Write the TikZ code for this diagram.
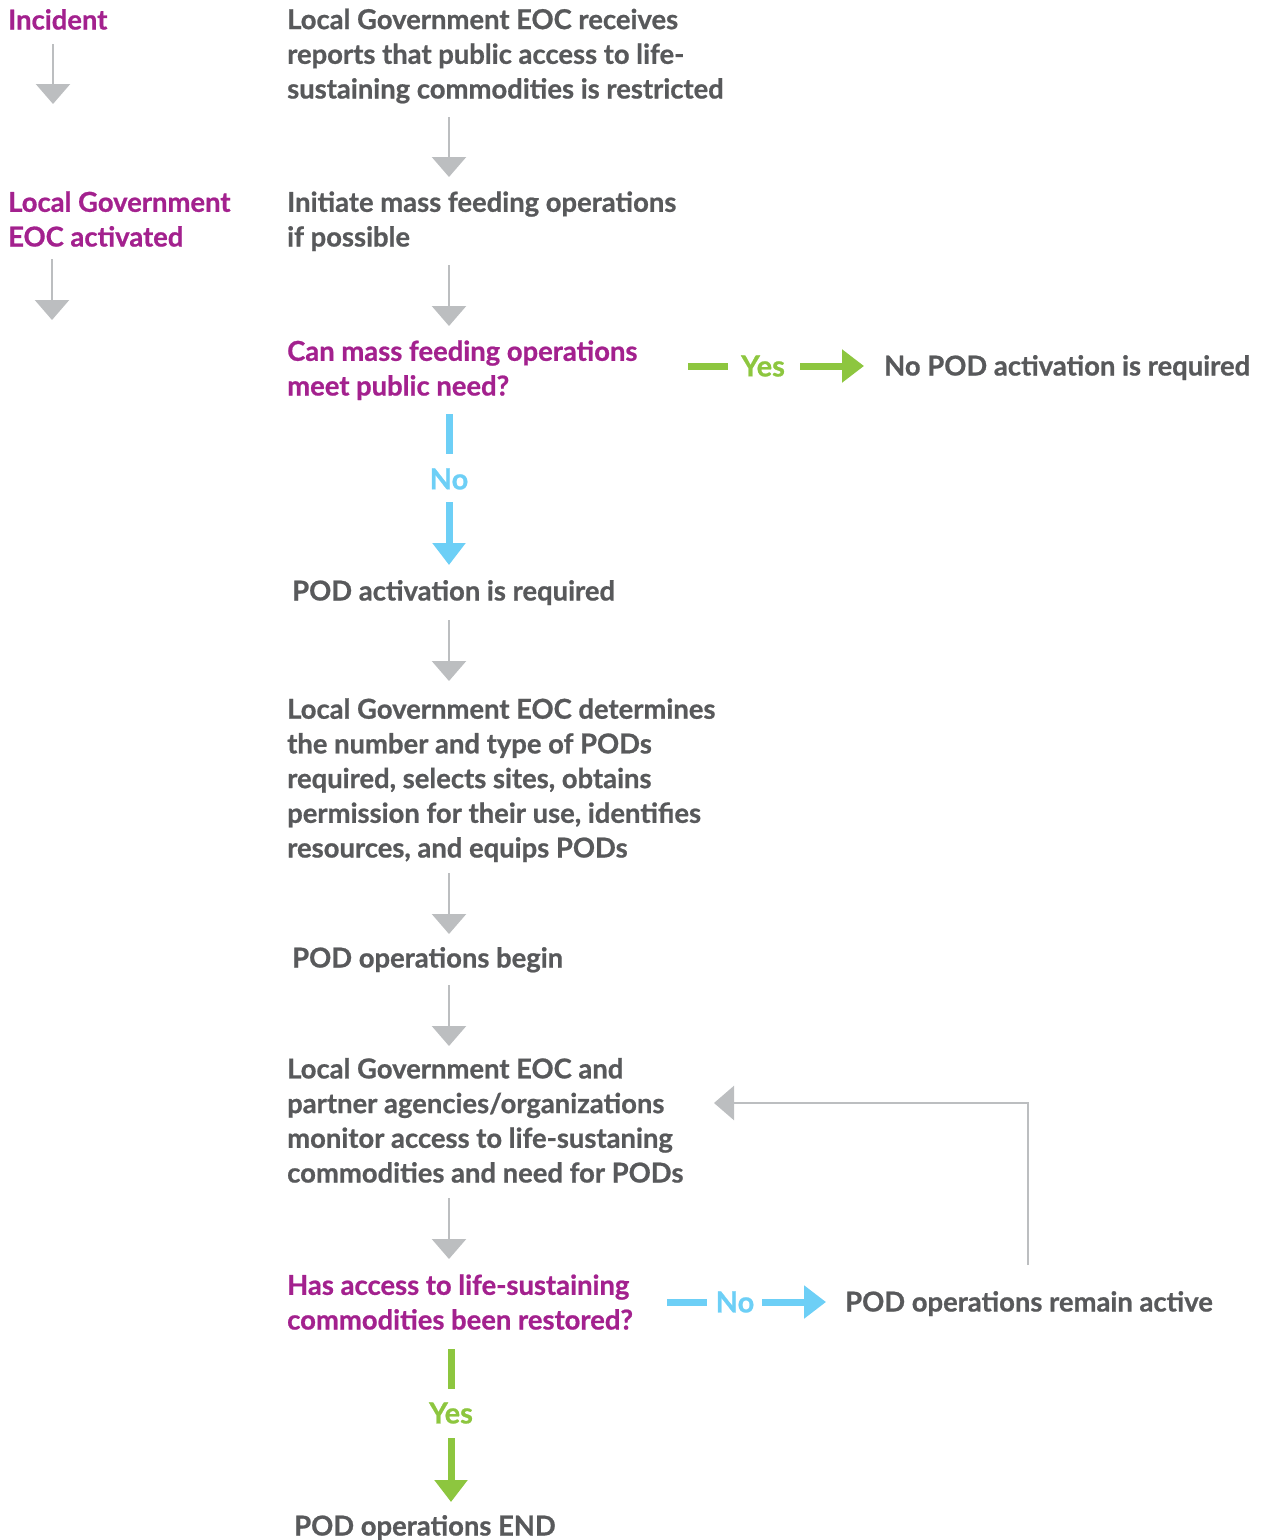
\documentclass[tikz,border=0pt]{standalone}
\usepackage{fontspec}
\setmainfont{Lato}[UprightFont=* Bold,FakeBold=0.8]
\usetikzlibrary{arrows.meta}
\definecolor{txtgray}{HTML}{58595B}
\definecolor{magen}{HTML}{A3218E}
\definecolor{arrgray}{HTML}{BCBEC0}
\definecolor{grn}{HTML}{8DC63F}
\definecolor{blu}{HTML}{6DCFF6}
\tikzset{
  x=1pt,y=-1pt,
  base/.style={inner sep=0pt,anchor=base west,align=left,font=\fontsize{27.4}{34.7}\selectfont},
  txt/.style={base,text=txtgray},
  mtxt/.style={base,text=magen},
  glab/.style={inner sep=0pt,font=\fontsize{29}{34.7}\selectfont,text=grn},
  blab/.style={inner sep=0pt,font=\fontsize{29}{34.7}\selectfont,text=blu},
  garrow/.style={draw=arrgray,line width=2.5pt,-{Triangle[width=34pt,length=20pt]}},
  greenbar/.style={draw=grn,line width=7pt},
  greenarrow/.style={draw=grn,line width=7pt,-{Triangle[width=32pt,length=22pt]}},
  bluebar/.style={draw=blu,line width=7pt},
  bluearrow/.style={draw=blu,line width=7pt,-{Triangle[width=32pt,length=22pt]}},
}
\begin{document}
\begin{tikzpicture}
\useasboundingbox (0,0) rectangle (1263,1540);
% left column (base anchor = baseline of last line)
\node[mtxt] (incident) at (8,29.5) {Incident};
\coordinate (l1s) at (53,44); \coordinate (l1e) at (53,104);
\draw[garrow] (l1s) -- (l1e);
\node[mtxt] (eoc) at (8,246.5) {Local Government\\EOC activated};
\coordinate (l2s) at (52,259); \coordinate (l2e) at (52,320);
\draw[garrow] (l2s) -- (l2e);
% main column
\node[txt] (n1) at (287,98.5) {Local Government EOC receives\\reports that public access to life-\\sustaining commodities is restricted};
\coordinate (a1s) at (449,117); \coordinate (a1e) at (449,177);
\draw[garrow] (a1s) -- (a1e);
\node[txt] (n2) at (287,246.5) {Initiate mass feeding operations\\if possible};
\coordinate (a2s) at (449,265); \coordinate (a2e) at (449,326);
\draw[garrow] (a2s) -- (a2e);
\node[mtxt] (q1) at (287,395.5) {Can mass feeding operations\\meet public need?};
% yes branch
\coordinate (y1s) at (688,366); \coordinate (y1m) at (728,366);
\node[glab] (yes1) at (763,366) {Yes};
\coordinate (y1a) at (800,366); \coordinate (y1e) at (864,366);
\draw[greenbar] (y1s) -- (y1m);
\draw[greenarrow] (y1a) -- (y1e);
\node[txt] (nopod) at (884,375.5) {No POD activation is required};
% no branch
\coordinate (n1s) at (449,414); \coordinate (n1m) at (449,454);
\node[blab] (no1) at (449,479) {No};
\coordinate (n1a) at (449,502); \coordinate (n1e) at (449,565);
\draw[bluebar] (n1s) -- (n1m);
\draw[bluearrow] (n1a) -- (n1e);
\node[txt] (podreq) at (292,600.5) {POD activation is required};
\coordinate (a3s) at (449,620); \coordinate (a3e) at (449,681);
\draw[garrow] (a3s) -- (a3e);
\node[txt] (n3) at (287,857.5) {Local Government EOC determines\\the number and type of PODs\\required, selects sites, obtains\\permission for their use, identifies\\resources, and equips PODs};
\coordinate (a4s) at (449,873); \coordinate (a4e) at (449,934);
\draw[garrow] (a4s) -- (a4e);
\node[txt] (begin) at (292,967.5) {POD operations begin};
\coordinate (a5s) at (449,985); \coordinate (a5e) at (449,1046);
\draw[garrow] (a5s) -- (a5e);
\node[txt] (monitor) at (287,1182.5) {Local Government EOC and\\partner agencies/organizations\\monitor access to life-sustaning\\commodities and need for PODs};
\coordinate (a6s) at (449,1198); \coordinate (a6e) at (449,1259);
\draw[garrow] (a6s) -- (a6e);
\node[mtxt] (q2) at (287,1329.5) {Has access to life-sustaining\\commodities been restored?};
% no branch 2
\coordinate (n2s) at (667,1302); \coordinate (n2m) at (707,1302);
\node[blab] (no2) at (735,1302) {No};
\coordinate (n2a) at (762,1302); \coordinate (n2e) at (826,1302);
\draw[bluebar] (n2s) -- (n2m);
\draw[bluearrow] (n2a) -- (n2e);
\node[txt] (remain) at (845,1311.5) {POD operations remain active};
% feedback
\coordinate (f1) at (1028,1265); \coordinate (f2) at (1028,1103); \coordinate (f3) at (714,1103);
\draw[garrow] (f1) -- (f2) -- (f3);
% yes branch 2
\coordinate (y2s) at (451,1349); \coordinate (y2m) at (451,1389);
\node[glab] (yes2) at (451,1413) {Yes};
\coordinate (y2a) at (451,1438); \coordinate (y2e) at (451,1502);
\draw[greenbar] (y2s) -- (y2m);
\draw[greenarrow] (y2a) -- (y2e);
\node[txt] (end) at (294,1535.5) {POD operations END};
\end{tikzpicture}
\end{document}
